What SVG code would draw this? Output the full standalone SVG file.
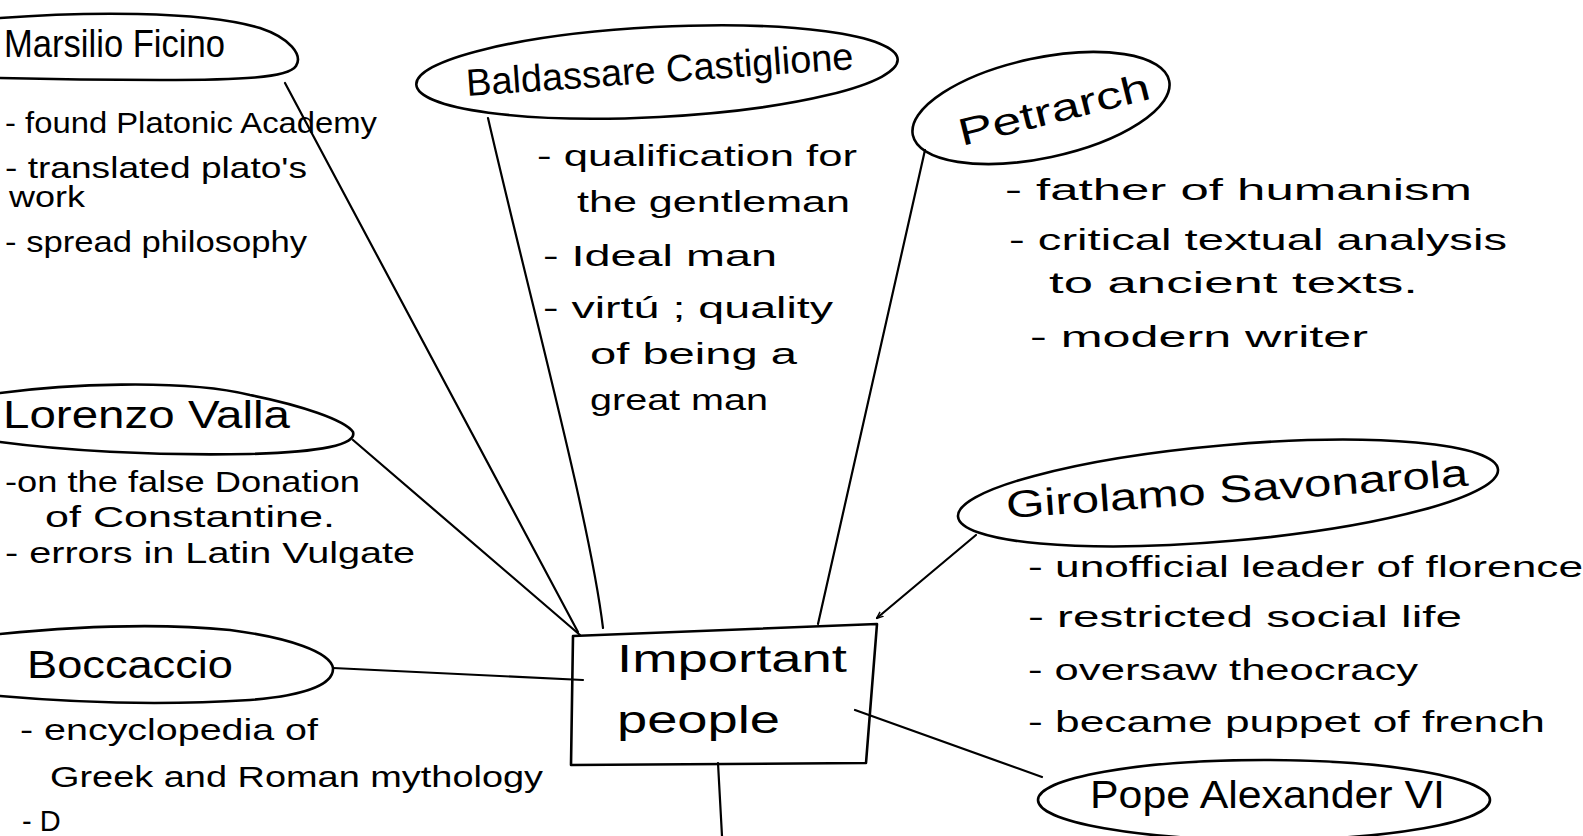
<svg xmlns="http://www.w3.org/2000/svg" width="1583" height="836" viewBox="0 0 1583 836">
<style>
.shape{fill:none;stroke:#000;stroke-width:2.6;stroke-linejoin:round;stroke-linecap:round}
.edge{fill:none;stroke:#000;stroke-width:2.2;stroke-linecap:round}
.title{font-family:"Liberation Sans",Arial,sans-serif;font-size:38px;fill:#000}
.item{font-family:"Liberation Sans",Arial,sans-serif;font-size:29px;fill:#000}
</style>
<defs>
<marker id="arrow" viewBox="0 0 10 10" refX="9" refY="5" markerWidth="7" markerHeight="7" orient="auto" markerUnits="userSpaceOnUse">
<path d="M0,1 L10,5 L0,9" fill="none" stroke="#000" stroke-width="2"/>
</marker>
</defs>
<rect width="1583" height="836" fill="#fff"/>

<g id="connectors">
<path class="edge" d="M285,83 L578,632"/>
<path class="edge" d="M353,440 L580,635"/>
<path class="edge" d="M333,668 L583,680"/>
<path class="edge" d="M488,118 C530,300 590,520 603,628"/>
<path class="edge" d="M925,150 L818,624"/>
<path class="edge" d="M976,535 L877,618" marker-end="url(#arrow)"/>
<path class="edge" d="M855,710 L1042,777"/>
<path class="edge" d="M718,763 L722,836"/>
</g>

<g id="important-people">
<path class="shape" d="M573,636 L877,624 L866,763 L571,765 Z"/>
<text class="title" x="617" y="672" font-size="44" textLength="230" lengthAdjust="spacingAndGlyphs">Important</text>
<text class="title" x="617" y="733" font-size="44" textLength="163" lengthAdjust="spacingAndGlyphs">people</text>
</g>

<g id="marsilio-ficino">
<path class="shape" d="M0,18 C80,12 200,10 260,28 C290,38 303,55 296,66 C288,78 240,80 160,80 C90,80 40,79 0,78"/>
<text class="title" x="4" y="57" font-size="40" textLength="221" lengthAdjust="spacingAndGlyphs">Marsilio Ficino</text>
<text class="item" x="5" y="133" textLength="372" lengthAdjust="spacingAndGlyphs">- found Platonic Academy</text>
<text class="item" x="5" y="178" textLength="302" lengthAdjust="spacingAndGlyphs">- translated plato's</text>
<text class="item" x="9" y="207" textLength="76" lengthAdjust="spacingAndGlyphs">work</text>
<text class="item" x="5" y="252" textLength="302" lengthAdjust="spacingAndGlyphs">- spread philosophy</text>
</g>

<g id="baldassare-castiglione">
<ellipse class="shape" cx="657" cy="72" rx="241" ry="45" transform="rotate(-3 657 72)"/>
<text class="title" x="467" y="96" font-size="42" textLength="388" lengthAdjust="spacingAndGlyphs" transform="rotate(-4 467 96)">Baldassare Castiglione</text>
<text class="item" x="537" y="166" textLength="320" lengthAdjust="spacingAndGlyphs">- qualification for</text>
<text class="item" x="577" y="212" textLength="273" lengthAdjust="spacingAndGlyphs">the gentleman</text>
<text class="item" x="543" y="266" textLength="234" lengthAdjust="spacingAndGlyphs">- Ideal man</text>
<text class="item" x="543" y="318" textLength="290" lengthAdjust="spacingAndGlyphs">- virtú ; quality</text>
<text class="item" x="590" y="364" textLength="207" lengthAdjust="spacingAndGlyphs">of being a</text>
<text class="item" x="590" y="410" textLength="178" lengthAdjust="spacingAndGlyphs">great man</text>
</g>

<g id="petrarch">
<ellipse class="shape" cx="1041" cy="108" rx="131" ry="50" transform="rotate(-12 1041 108)"/>
<text class="title" x="962" y="146" font-size="50" textLength="196" lengthAdjust="spacingAndGlyphs" transform="rotate(-14 962 146)">Petrarch</text>
<text class="item" x="1005" y="200" font-size="31" textLength="467" lengthAdjust="spacingAndGlyphs">- father of humanism</text>
<text class="item" x="1009" y="250" font-size="31" textLength="498" lengthAdjust="spacingAndGlyphs">- critical textual analysis</text>
<text class="item" x="1049" y="293" font-size="31" textLength="369" lengthAdjust="spacingAndGlyphs">to ancient texts.</text>
<text class="item" x="1030" y="347" font-size="31" textLength="338" lengthAdjust="spacingAndGlyphs">- modern writer</text>
</g>

<g id="lorenzo-valla">
<path class="shape" d="M0,393 C60,385 180,378 250,395 C300,405 345,420 353,432 C357,445 320,452 250,454 C150,456 60,450 0,442"/>
<text class="title" x="3" y="428" font-size="36" textLength="287" lengthAdjust="spacingAndGlyphs">Lorenzo Valla</text>
<text class="item" x="5" y="492" font-size="28" textLength="355" lengthAdjust="spacingAndGlyphs">-on the false Donation</text>
<text class="item" x="45" y="527" font-size="28" textLength="290" lengthAdjust="spacingAndGlyphs">of Constantine.</text>
<text class="item" x="5" y="563" font-size="28" textLength="410" lengthAdjust="spacingAndGlyphs">- errors in Latin Vulgate</text>
</g>

<g id="boccaccio">
<path class="shape" d="M0,634 C60,628 150,622 230,630 C290,638 330,652 333,668 C334,686 300,696 250,700 C170,705 80,703 0,696"/>
<text class="title" x="27" y="678" font-size="40" textLength="206" lengthAdjust="spacingAndGlyphs">Boccaccio</text>
<text class="item" x="20" y="740" textLength="298" lengthAdjust="spacingAndGlyphs">- encyclopedia of</text>
<text class="item" x="50" y="787" textLength="493" lengthAdjust="spacingAndGlyphs">Greek and Roman mythology</text>
<text class="item" x="22" y="831" font-size="24">- D</text>
</g>

<g id="girolamo-savonarola">
<ellipse class="shape" cx="1228" cy="493" rx="271" ry="48" transform="rotate(-5 1228 493)"/>
<text class="title" x="1007" y="518" font-size="40" textLength="463" lengthAdjust="spacingAndGlyphs" transform="rotate(-4 1007 518)">Girolamo Savonarola</text>
<text class="item" x="1028" y="577" font-size="31" textLength="555" lengthAdjust="spacingAndGlyphs">- unofficial leader of florence</text>
<text class="item" x="1028" y="627" font-size="31" textLength="434" lengthAdjust="spacingAndGlyphs">- restricted social life</text>
<text class="item" x="1028" y="680" font-size="31" textLength="390" lengthAdjust="spacingAndGlyphs">- oversaw theocracy</text>
<text class="item" x="1028" y="732" font-size="31" textLength="517" lengthAdjust="spacingAndGlyphs">- became puppet of french</text>
</g>

<g id="pope-alexander-vi">
<ellipse class="shape" cx="1264" cy="800" rx="226" ry="40"/>
<text class="title" x="1090" y="808" font-size="36" textLength="355" lengthAdjust="spacingAndGlyphs">Pope Alexander VI</text>
</g>
</svg>
